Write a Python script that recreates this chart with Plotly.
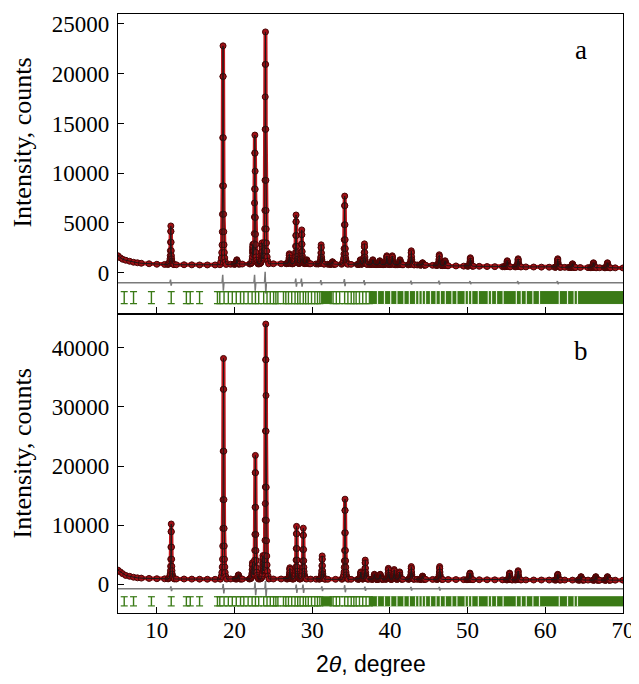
import numpy as np
import plotly.graph_objects as go
from plotly.subplots import make_subplots

# ---------------- data ----------------
X_RANGE = [5, 70]
X_TICKS = [10, 20, 30, 40, 50, 60, 70]
Y_TICKS_A = [0, 5000, 10000, 15000, 20000, 25000]
Y_TICKS_B = [0, 10000, 20000, 30000, 40000]

# panel a: background and peak tops (2theta, counts)
BG_X_A = [5.0, 5.3, 5.6, 6.0, 6.5, 7.0, 7.5, 8.0, 9.0, 10.0, 11.0, 12.5, 13.5, 14.5, 15.5,
          16.5, 17.5, 19.5, 21.0, 25.0, 26.0, 29.8, 30.5, 32.0, 33.0, 35.0, 36.0, 38.0,
          41.5, 43.5, 44.5, 45.5, 47.5, 48.5, 49.5, 51.5, 52.5, 53.5, 54.5, 57.5, 58.5,
          59.5, 60.5, 62.5, 63.0, 64.5, 65.5, 67.0, 69.0, 70.0]
BG_Y_A = [1700, 1500, 1350, 1250, 1150, 1050, 1000, 950, 900, 850, 830, 800, 800, 790, 780,
          780, 780, 850, 870, 900, 900, 900, 880, 850, 850, 840, 830, 820,
          800, 780, 760, 740, 700, 680, 660, 640, 620, 610, 600, 580, 570,
          560, 550, 540, 530, 520, 510, 500, 490, 480]
PEAK_POS_A = [11.8, 18.52, 20.3, 22.35, 22.62, 23.55, 23.98, 27.05, 27.92, 28.65, 29.3,
              31.15, 32.6, 34.18, 36.2, 36.72, 37.8, 38.7, 39.6, 40.3, 41.3, 42.75,
              44.2, 46.35, 47.1, 50.35, 55.1, 56.5, 61.6, 63.5, 66.2, 68.0]
PEAK_TOP_A = [4700, 22800, 1300, 2600, 13800, 3000, 24200, 1900, 5800, 4300, 1300,
              2800, 1100, 7700, 1300, 2900, 1300, 1200, 1700, 1700, 1300, 2200,
              1000, 1800, 1200, 1500, 1200, 1400, 1400, 900, 1000, 1000]
DIFF_BASE_A = -1000
DIFF_POS_A = [11.8, 18.52, 22.62, 23.98, 27.92, 28.65, 31.15, 34.18, 36.72, 42.75, 46.35, 50.35, 56.5, 61.6]
DIFF_AMP_A = [300, 800, 800, 1100, 400, 400, 250, 350, 250, 200, 200, 150, 150, 150]

# panel b
BG_X_B = [5.0, 5.3, 5.6, 6.0, 6.5, 7.0, 7.5, 8.0, 9.0, 10.0, 11.0, 12.5, 13.5, 14.5, 15.5,
          16.5, 17.5, 19.5, 21.0, 25.0, 26.0, 29.8, 30.5, 32.0, 33.0, 35.0, 38.0,
          43.5, 44.5, 45.5, 47.5, 48.5, 49.5, 51.5, 52.5, 53.5, 54.5, 57.5, 58.5,
          59.5, 60.5, 62.5, 63.5, 65.5, 67.0, 69.0, 70.0]
BG_Y_B = [2400, 2100, 1800, 1500, 1350, 1200, 1100, 1050, 1000, 950, 930, 900, 900, 880, 870,
          860, 850, 900, 900, 900, 900, 880, 870, 850, 850, 850, 850,
          850, 840, 830, 810, 800, 790, 780, 770, 760, 750, 740, 730,
          730, 720, 720, 710, 710, 700, 700, 700]
PEAK_POS_B = [11.85, 18.58, 20.5, 22.3, 22.68, 23.65, 24.02, 27.12, 27.98, 28.85, 31.28,
              34.22, 36.25, 36.82, 38.0, 38.75, 39.8, 40.55, 41.25, 42.75, 44.2, 46.4,
              50.3, 55.4, 56.5, 61.6, 64.6, 66.5, 68.0]
PEAK_TOP_B = [10200, 38200, 1600, 3600, 21800, 4700, 44000, 2800, 9800, 9500, 4800,
              14400, 2100, 4100, 1700, 1700, 2700, 2500, 2100, 3000, 1400, 3000,
              1900, 1900, 2300, 1700, 1300, 1300, 1300]
DIFF_BASE_B = -750
DIFF_POS_B = [11.85, 18.58, 22.68, 24.02, 27.98, 28.85, 31.28, 34.22, 36.82, 42.75, 46.4]
DIFF_AMP_B = [400, 800, 1100, 1300, 700, 700, 400, 600, 350, 300, 300]

# Bragg reflection markers (2theta)
REFL_POS = [5.8, 7.0, 9.3, 11.85, 13.8, 14.3, 15.5,
            17.80, 18.10, 18.65, 19.20, 19.71, 20.22, 20.77, 21.20, 21.75, 22.26, 22.69,
            23.11, 23.75, 24.18, 24.60, 25.03, 25.32, 25.58,
            26.30, 26.60, 26.94, 27.36, 27.79, 28.13, 28.43, 28.85, 29.15, 29.49, 29.91,
            30.34, 30.68, 30.98,
            32.68, 33.10, 33.53, 34.17, 34.59, 35.02, 35.36, 35.65, 36.08, 36.50, 36.93, 37.36]
REFL_BAND_START = [31.2, 37.5]
REFL_BAND_END = [32.5, 70.0]
REFL_GAPS = [38.4, 39.3, 40.1, 40.9, 41.8, 42.5,
             43.30, 43.73, 44.16, 44.58, 45.22, 45.94, 46.49, 47.13, 47.98, 48.62, 49.68,
             50.11, 50.53, 51.38, 52.66, 53.08, 53.72, 54.57, 56.27, 56.91, 57.55, 58.40,
             59.25, 61.80, 62.86, 63.71, 64.14]
REFL_Y_A = [-1900, -3100]
REFL_Y_B = [-2100, -3650]

# peak shape table (offset in degrees, fraction of peak height)
PROFILE_DX = [0.0, 0.02, 0.04, 0.06, 0.08, 0.10, 0.13, 0.17, 0.22, 0.30, 0.40]
PROFILE_F = [1.0, 0.86, 0.58, 0.36, 0.23, 0.15, 0.09, 0.055, 0.03, 0.012, 0.0]
DIFF_DX = [0.0, 0.04, 0.12]

RED_LINE = '#c4161c'
RED_DOT = '#9e1016'
GREEN = '#3a7a16'
SERIF = 'Liberation Serif, Times New Roman, serif'
SANS = 'Liberation Sans, Arial, sans-serif'


def pattern(bg_x, bg_y, pos, top):
    xs = set(bg_x)
    for c in pos:
        for d in PROFILE_DX:
            xs.add(round(c - d, 4))
            xs.add(round(c + d, 4))
    x = np.array(sorted(xs))
    x = x[(x >= X_RANGE[0]) & (x <= X_RANGE[1])]
    y = np.interp(x, bg_x, bg_y)
    for c, t in zip(pos, top):
        h = t - np.interp(c, bg_x, bg_y)
        y = y + h * np.interp(np.abs(x - c), PROFILE_DX, PROFILE_F, right=0)
    return x, y


def difference(base, pos, amp):
    xs = [X_RANGE[0], X_RANGE[1]]
    for c in pos:
        for d in DIFF_DX:
            xs += [c - d, c + d]
    x = np.array(sorted(set(round(v, 4) for v in xs)))
    y = np.full(len(x), float(base))
    for c, a in zip(pos, amp):
        sgn = np.sign(c - x)
        y = y + a * sgn * np.interp(np.abs(x - c), DIFF_DX, [0.0, 1.0, 0.0])
    return x, y


def segs(xvals, y0, y1):
    xx, yy = [], []
    for v in xvals:
        xx += [v, v, None]
        yy += [y0, y1, None]
    return xx, yy


fig = make_subplots(rows=2, cols=1, shared_xaxes=True, vertical_spacing=0)

panels = [
    (1, BG_X_A, BG_Y_A, PEAK_POS_A, PEAK_TOP_A, DIFF_BASE_A, DIFF_POS_A, DIFF_AMP_A, REFL_Y_A),
    (2, BG_X_B, BG_Y_B, PEAK_POS_B, PEAK_TOP_B, DIFF_BASE_B, DIFF_POS_B, DIFF_AMP_B, REFL_Y_B),
]
for row, bx, by, pp, pt, db, dp, da, ry in panels:
    x, y = pattern(bx, by, pp, pt)
    fig.add_trace(go.Scatter(x=x, y=y, mode='lines+markers',
                             line=dict(color=RED_LINE, width=4),
                             marker=dict(size=6, color=RED_DOT,
                                         line=dict(color='#4a0505', width=1)),
                             showlegend=False, hoverinfo='skip'), row=row, col=1)
    fig.add_trace(go.Scatter(x=x, y=y, mode='lines',
                             line=dict(color='#1a1a1a', width=1),
                             showlegend=False, hoverinfo='skip'), row=row, col=1)
    dx, dy = difference(db, dp, da)
    fig.add_trace(go.Scatter(x=dx, y=dy, mode='lines',
                             line=dict(color='#7a7a7a', width=1.5),
                             showlegend=False, hoverinfo='skip'), row=row, col=1)
    for s, e in zip(REFL_BAND_START, REFL_BAND_END):
        fig.add_trace(go.Scatter(x=[s, e, e, s, s], y=[ry[0], ry[0], ry[1], ry[1], ry[0]],
                                 mode='lines', fill='toself', fillcolor=GREEN,
                                 line=dict(color=GREEN, width=1),
                                 showlegend=False, hoverinfo='skip'), row=row, col=1)
    gx, gy = segs(REFL_GAPS, ry[0] + 80, ry[1] - 80)
    fig.add_trace(go.Scatter(x=gx, y=gy, mode='lines',
                             line=dict(color='#e8f2e0', width=1.2),
                             showlegend=False, hoverinfo='skip'), row=row, col=1)
    tx, ty = segs(REFL_POS, ry[0], ry[1])
    fig.add_trace(go.Scatter(x=tx, y=ty, mode='lines',
                             line=dict(color=GREEN, width=1.4),
                             showlegend=False, hoverinfo='skip'), row=row, col=1)
    capx = REFL_POS + REFL_POS
    capy = [ry[0]] * len(REFL_POS) + [ry[1]] * len(REFL_POS)
    fig.add_trace(go.Scatter(x=capx, y=capy, mode='markers',
                             marker=dict(symbol='line-ew', size=5,
                                         line=dict(color=GREEN, width=1.2)),
                             showlegend=False, hoverinfo='skip'), row=row, col=1)

axis_common = dict(showgrid=False, zeroline=False, showline=True, linecolor='black',
                   linewidth=1.2, mirror=True, ticks='inside', ticklen=6,
                   tickcolor='black', tickwidth=1, tickformat='d',
                   ticklabeloverflow='allow',
                   tickfont=dict(family=SERIF, size=23, color='black'))

fig.update_xaxes(range=X_RANGE, tickvals=X_TICKS, **axis_common)
fig.update_xaxes(showticklabels=False, row=1, col=1)
fig.update_xaxes(ticklabelstandoff=-4, row=2, col=1)
fig.update_yaxes(**axis_common)
fig.update_yaxes(range=[-4100, 26000], tickvals=Y_TICKS_A, ticklabelstandoff=3,
                 domain=[0.5, 1.0], row=1, col=1)
fig.update_yaxes(range=[-4850, 45800], tickvals=Y_TICKS_B, ticklabelstandoff=3,
                 domain=[0.0, 0.5], row=2, col=1)

# the page body adds an 8 px margin, so the figure is placed to fit inside it
fig.update_layout(
    width=631, height=668,
    margin=dict(l=110, r=12, t=4, b=63),
    paper_bgcolor='white', plot_bgcolor='white',
    annotations=[
        dict(text='Intensity, counts', xref='paper', yref='paper', x=-0.1886, y=0.785,
             xanchor='center', yanchor='middle', textangle=-90, showarrow=False,
             font=dict(family=SERIF, size=26, color='black')),
        dict(text='Intensity, counts', xref='paper', yref='paper', x=-0.1886, y=0.266,
             xanchor='center', yanchor='middle', textangle=-90, showarrow=False,
             font=dict(family=SERIF, size=26, color='black')),
        dict(text='2<i>θ</i>, degree', xref='paper', yref='paper', x=0.5, y=-0.085,
             xanchor='center', yanchor='middle', showarrow=False,
             font=dict(family=SANS, size=23, color='black')),
        dict(text='a', xref='paper', yref='paper', x=0.9175, y=0.912,
             xanchor='center', yanchor='bottom', showarrow=False,
             font=dict(family=SERIF, size=27, color='black')),
        dict(text='b', xref='paper', yref='paper', x=0.9175, y=0.409,
             xanchor='center', yanchor='bottom', showarrow=False,
             font=dict(family=SERIF, size=27, color='black')),
    ],
)

fig.write_html('out.html')
